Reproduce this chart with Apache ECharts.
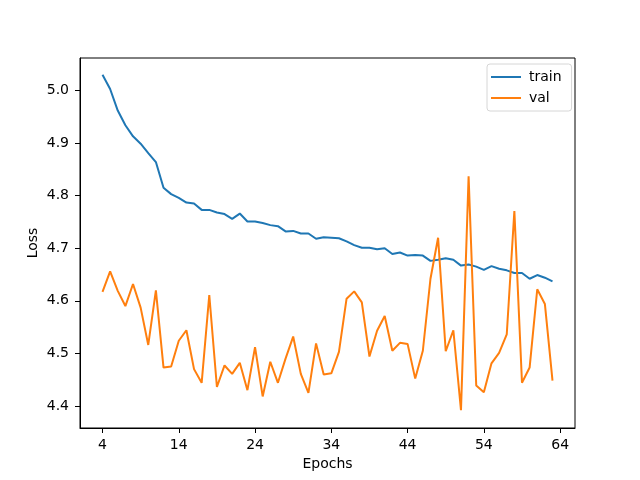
<!DOCTYPE html>
<html>
<head>
<meta charset="utf-8">
<script src="https://cdn.jsdelivr.net/npm/echarts@6/dist/echarts.min.js"></script>
<style>
  html, body { margin: 0; padding: 0; background: #fff; }
  #chart { width: 640px; height: 480px; }
</style>
</head>
<body>
<div id="chart"></div>
<script>
// epochs on the x axis
var epochs = [4, 5, 6, 7, 8, 9, 10, 11, 12, 13, 14, 15, 16, 17, 18, 19, 20, 21, 22, 23,
  24, 25, 26, 27, 28, 29, 30, 31, 32, 33, 34, 35, 36, 37, 38, 39, 40, 41, 42, 43,
  44, 45, 46, 47, 48, 49, 50, 51, 52, 53, 54, 55, 56, 57, 58, 59, 60, 61, 62, 63];

var trainLoss = [5.030, 5.003, 4.962, 4.934, 4.913, 4.899, 4.881, 4.864, 4.815, 4.803,
  4.796, 4.787, 4.785, 4.773, 4.773, 4.768, 4.765, 4.756, 4.766, 4.751,
  4.751, 4.748, 4.744, 4.742, 4.732, 4.733, 4.728, 4.728, 4.718, 4.721,
  4.720, 4.719, 4.713, 4.706, 4.701, 4.701, 4.698, 4.700, 4.689, 4.692,
  4.686, 4.687, 4.686, 4.676, 4.678, 4.681, 4.678, 4.667, 4.669, 4.665,
  4.659, 4.666, 4.661, 4.658, 4.653, 4.653, 4.642, 4.649, 4.644, 4.637];

var valLoss = [4.617, 4.656, 4.619, 4.590, 4.632, 4.587, 4.516, 4.620, 4.473, 4.475,
  4.524, 4.544, 4.470, 4.444, 4.611, 4.436, 4.477, 4.461, 4.482, 4.430,
  4.512, 4.418, 4.484, 4.444, 4.490, 4.532, 4.461, 4.425, 4.519, 4.460,
  4.462, 4.503, 4.604, 4.618, 4.597, 4.494, 4.543, 4.571, 4.505, 4.520,
  4.518, 4.452, 4.505, 4.642, 4.720, 4.504, 4.544, 4.392, 4.837, 4.439,
  4.426, 4.481, 4.501, 4.536, 4.771, 4.444, 4.473, 4.622, 4.594, 4.448];

var xTicks = [4, 14, 24, 34, 44, 54, 64];
var yTicks = [4.4, 4.5, 4.6, 4.7, 4.8, 4.9, 5.0];

function pairs(ys) {
  return epochs.map(function (e, i) { return [e, ys[i]]; });
}

var font = 'DejaVu Sans';
var chart = echarts.init(document.getElementById('chart'), null, { renderer: 'canvas' });

chart.setOption({
  animation: false,
  backgroundColor: '#fff',
  textStyle: { fontFamily: font },
  grid: {
    left: 80, right: 65, top: 58, bottom: 52,
    show: true, borderColor: '#000', borderWidth: 1, backgroundColor: 'transparent'
  },
  legend: {
    orient: 'vertical',
    left: 487, top: 64,
    padding: [6, 10, 6, 4],
    itemGap: 7,
    itemWidth: 30, itemHeight: 2,
    icon: 'rect',
    backgroundColor: '#fff',
    borderColor: '#d6d6d6', borderWidth: 1, borderRadius: 3,
    textStyle: { fontFamily: font, fontSize: 14, color: '#000', padding: [0, 0, 0, 3] },
    data: ['train', 'val']
  },
  xAxis: {
    type: 'value',
    min: 1.05, max: 65.95,
    name: 'Epochs',
    nameLocation: 'middle',
    nameGap: 29,
    nameMoveOverlap: false,
    nameTextStyle: { fontFamily: font, fontSize: 14, color: '#000' },
    axisLine: { lineStyle: { color: '#000', width: 1 } },
    axisTick: { show: true, length: 5, lineStyle: { color: '#000' }, customValues: xTicks },
    axisLabel: { fontFamily: font, fontSize: 14, color: '#000', margin: 10, customValues: xTicks },
    splitLine: { show: false }
  },
  yAxis: {
    type: 'value',
    min: 4.358, max: 5.062,
    name: 'Loss',
    nameLocation: 'middle',
    nameGap: 40,
    nameMoveOverlap: false,
    nameTextStyle: { fontFamily: font, fontSize: 14, color: '#000' },
    axisLine: { show: true, lineStyle: { color: '#000', width: 1 } },
    axisTick: { show: true, length: 5, lineStyle: { color: '#000' }, customValues: yTicks },
    axisLabel: {
      fontFamily: font, fontSize: 14, color: '#000', margin: 11,
      customValues: yTicks,
      formatter: function (v) { return v.toFixed(1); }
    },
    splitLine: { show: false }
  },
  series: [
    {
      name: 'train', type: 'line', data: pairs(trainLoss),
      showSymbol: false, symbol: 'none',
      lineStyle: { color: '#1f77b4', width: 2 },
      itemStyle: { color: '#1f77b4' }
    },
    {
      name: 'val', type: 'line', data: pairs(valLoss),
      showSymbol: false, symbol: 'none',
      lineStyle: { color: '#ff7f0e', width: 2 },
      itemStyle: { color: '#ff7f0e' }
    }
  ]
});
</script>
</body>
</html>
